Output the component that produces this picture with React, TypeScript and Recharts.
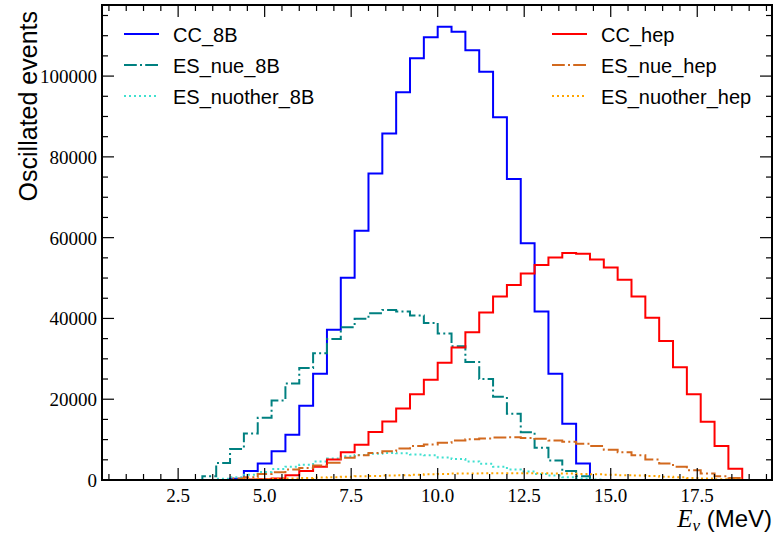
import React from "react";
import { LineChart, Line, XAxis, YAxis, Legend } from "recharts";

// histogram bin edges (MeV), 44 bins of 0.4
const binEdges = [
  1.2, 1.6, 2.0, 2.4, 2.8, 3.2, 3.6, 4.0, 4.4, 4.8, 5.2, 5.6, 6.0, 6.4, 6.8,
  7.2, 7.6, 8.0, 8.4, 8.8, 9.2, 9.6, 10.0, 10.4, 10.8, 11.2, 11.6, 12.0, 12.4,
  12.8, 13.2, 13.6, 14.0, 14.4, 14.8, 15.2, 15.6, 16.0, 16.4, 16.8, 17.2, 17.6,
  18.0, 18.4, 18.8,
];

// counts per bin
const cc8B = [
  0, 0, 0, 0, 0, 0, 0, 300, 2200, 4100, 7100, 11200, 18400, 26300, 37200,
  50100, 61700, 75900, 85800, 96000, 104400, 109600, 112200, 111000, 106400,
  101100, 89800, 74500, 58600, 41700, 26300, 13900, 4100, 0, 0, 0, 0, 0, 0, 0,
  0, 0, 0, 0,
];
const esNue8B = [
  0, 0, 0, 0, 0, 900, 4200, 7700, 11500, 15400, 19700, 23900, 27700, 31400,
  34900, 37800, 39900, 41300, 42100, 41700, 40700, 38900, 36300, 33100, 29200,
  25000, 20600, 16400, 11800, 8000, 4800, 2200, 900, 0, 0, 0, 0, 0, 0, 0, 0, 0,
  0, 0,
];
const esNuother8B = [
  0, 0, 0, 0, 0, 0, 300, 700, 1300, 2000, 2700, 3300, 3800, 4600, 5300, 5900,
  6200, 6500, 6700, 6600, 6300, 6100, 5600, 5200, 4600, 4000, 3300, 2600, 2100,
  1500, 1100, 700, 400, 100, 0, 0, 0, 0, 0, 0, 0, 0, 0, 0,
];
const ccHep = [
  0, 0, 0, 0, 0, 0, 0, 0, 100, 200, 400, 1200, 2200, 3300, 5100, 6900, 8700,
  11900, 14500, 17700, 21200, 24800, 29000, 32800, 36600, 41500, 45400, 48300,
  51100, 53200, 55100, 56200, 56000, 54600, 52600, 49600, 45400, 40200, 34400,
  27900, 21200, 14400, 8400, 2800,
];
const esNueHep = [
  0, 0, 0, 0, 0, 0, 0, 400, 700, 1500, 1900, 2600, 3000, 3600, 4300, 5500, 6100,
  6700, 7100, 7800, 8400, 8800, 9200, 9800, 10100, 10300, 10500, 10600, 10400,
  10200, 9800, 9500, 9000, 8400, 7500, 6900, 6100, 5100, 4100, 3300, 2400, 1600,
  900, 500,
];
const esNuotherHep = [
  0, 0, 0, 0, 0, 0, 0, 0, 100, 200, 300, 400, 500, 600, 700, 800, 900, 1000,
  1100, 1200, 1300, 1400, 1500, 1600, 1600, 1700, 1700, 1700, 1700, 1700, 1600,
  1600, 1500, 1400, 1300, 1200, 1100, 1000, 800, 700, 500, 400, 200, 100,
];

const xTicks = Array.from({ length: 39 }, (_, i) => 0.5 * (i + 1));
const yTicks = Array.from({ length: 24 }, (_, i) => 5000 * i);

const series = [
  { key: "CC_8B", values: cc8B, color: "#0000ff", dash: undefined },
  { key: "ES_nue_8B", values: esNue8B, color: "#008080", dash: "12.8 3.2 2 3.2" },
  { key: "ES_nuother_8B", values: esNuother8B, color: "#40e0d0", dash: "2 3" },
  { key: "CC_hep", values: ccHep, color: "#ff0000", dash: undefined },
  { key: "ES_nue_hep", values: esNueHep, color: "#d2691e", dash: "12.8 3.2 2 3.2" },
  { key: "ES_nuother_hep", values: esNuotherHep, color: "#ffa500", dash: "2 3" },
];

const rows = binEdges.map((e, i) => {
  const row: any = { e };
  series.forEach((s) => {
    row[s.key] = i < s.values.length ? s.values[i] : 0;
  });
  return row;
});

const W = 774;
const H = 536;
const PL = 102;
const PT = 5;
const PR = 772;
const PB = 480;
const serif = "'Liberation Serif', 'DejaVu Serif', serif";
const sans = "'Liberation Sans', Arial, sans-serif";

const isMajorX = (v: number) => Math.abs(v / 2.5 - Math.round(v / 2.5)) < 1e-6;
const isMajorY = (v: number) => v % 20000 === 0;

const BottomTick = (props: any) => {
  const { x, y, payload } = props;
  const major = isMajorX(payload.value);
  return (
    <g>
      <line x1={x} y1={y} x2={x} y2={y - (major ? 12 : 6)} stroke="#000" strokeWidth={1.2} />
      {major && (
        <text x={x} y={y + 22} textAnchor="middle" style={{ fontFamily: serif, fontSize: 19 }} fill="#000">
          {payload.value.toFixed(1)}
        </text>
      )}
    </g>
  );
};

const TopTick = (props: any) => {
  const { x, y, payload } = props;
  const major = isMajorX(payload.value);
  return <line x1={x} y1={y} x2={x} y2={y + (major ? 12 : 6)} stroke="#000" strokeWidth={1.2} />;
};

const LeftTick = (props: any) => {
  const { x, y, payload } = props;
  const major = isMajorY(payload.value);
  return (
    <g>
      <line x1={x} y1={y} x2={x + (major ? 12 : 6)} y2={y} stroke="#000" strokeWidth={1.2} />
      {major && (
        <text x={x - 5} y={y + 7} textAnchor="end" style={{ fontFamily: serif, fontSize: 19 }} fill="#000">
          {payload.value}
        </text>
      )}
    </g>
  );
};

const RightTick = (props: any) => {
  const { x, y, payload } = props;
  const major = isMajorY(payload.value);
  return <line x1={x} y1={y} x2={x - (major ? 12 : 6)} y2={y} stroke="#000" strokeWidth={1.2} />;
};

const XLabel = (props: any) => {
  const vb = props.viewBox || { x: PL, y: PB, width: PR - PL };
  return (
    <text x={vb.x + vb.width} y={vb.y + 47} textAnchor="end" fill="#000">
      <tspan style={{ fontFamily: serif, fontStyle: "italic", fontSize: 25 }}>E</tspan>
      <tspan style={{ fontFamily: serif, fontStyle: "italic", fontSize: 17 }} dy={4}>ν</tspan>
      <tspan style={{ fontFamily: sans, fontSize: 24 }} dy={-4}> (MeV)</tspan>
    </text>
  );
};

const YLabel = () => (
  <text
    x={37}
    y={PT + 6}
    textAnchor="end"
    transform={`rotate(-90, 37, ${PT + 6})`}
    style={{ fontFamily: sans, fontSize: 25 }}
    fill="#000"
  >
    Oscillated events
  </text>
);

const LegendBox = () => (
  <svg width={W} height={120} style={{ display: "block" }}>
    {series.map((s, i) => {
      const lx = i < 3 ? 124 : 552;
      const ly = 34 + (i % 3) * 31;
      return (
        <g key={s.key}>
          <line x1={lx} y1={ly} x2={lx + 35} y2={ly} stroke={s.color} strokeWidth={2} strokeDasharray={s.dash} />
          <text x={lx + 49} y={ly + 7.5} style={{ fontFamily: sans, fontSize: 20 }} fill="#000">
            {s.key}
          </text>
        </g>
      );
    })}
  </svg>
);

export default function App() {
  return (
    <div style={{ position: "absolute", left: 0, top: 0, width: W, height: H, background: "#fff" }}>
      <LineChart width={W} height={H} data={rows} margin={{ top: PT - 1, right: 0, bottom: 0, left: 0 }}>
        <XAxis
          xAxisId="b"
          dataKey="e"
          type="number"
          orientation="bottom"
          domain={[0.3, 19.66]}
          allowDataOverflow
          ticks={xTicks}
          interval={0}
          tick={<BottomTick />}
          tickLine={false}
          axisLine={false}
          tickSize={0}
          tickMargin={0}
          height={H - PB}
          label={<XLabel />}
        />
        <XAxis
          xAxisId="t"
          dataKey="e"
          type="number"
          orientation="top"
          domain={[0.3, 19.66]}
          allowDataOverflow
          ticks={xTicks}
          interval={0}
          tick={<TopTick />}
          tickLine={false}
          axisLine={false}
          tickSize={0}
          tickMargin={0}
          height={1}
        />
        <YAxis
          yAxisId="l"
          type="number"
          domain={[0, 117600]}
          allowDataOverflow
          ticks={yTicks}
          interval={0}
          tick={<LeftTick />}
          tickLine={false}
          axisLine={false}
          tickSize={0}
          tickMargin={0}
          width={PL}
          label={<YLabel />}
        />
        <YAxis
          yAxisId="r"
          orientation="right"
          type="number"
          domain={[0, 117600]}
          allowDataOverflow
          ticks={yTicks}
          interval={0}
          tick={<RightTick />}
          tickLine={false}
          axisLine={false}
          tickSize={0}
          tickMargin={0}
          width={W - PR}
        />
        {series.map((s) => (
          <Line
            key={s.key}
            xAxisId="b"
            yAxisId="l"
            dataKey={s.key}
            type="stepAfter"
            stroke={s.color}
            strokeWidth={2}
            strokeDasharray={s.dash}
            dot={false}
            activeDot={false}
            isAnimationActive={false}
          />
        ))}
        <Legend
          layout="vertical"
          align="center"
          verticalAlign="middle"
          content={<LegendBox />}
          wrapperStyle={{ left: 0, top: 0, width: W, height: 120 }}
        />
      </LineChart>
      <svg
        width={W}
        height={H}
        style={{ position: "absolute", left: 0, top: 0, pointerEvents: "none" }}
      >
        <rect x={PL} y={PT} width={PR - PL} height={PB - PT} fill="none" stroke="#000" strokeWidth={2} />
      </svg>
    </div>
  );
}
